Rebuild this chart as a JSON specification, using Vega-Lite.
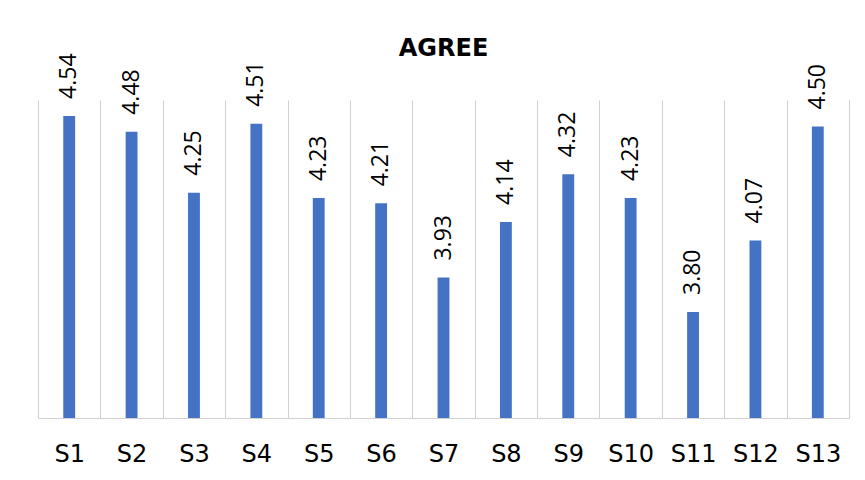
{
  "$schema": "https://vega.github.io/schema/vega-lite/v6.json",
  "autosize": {"type": "none"},
  "width": 811,
  "height": 318,
  "padding": {"left": 38, "top": 100, "right": 16, "bottom": 62},
  "background": "white",
  "title": {
    "text": "AGREE",
    "frame": "group",
    "font": "DejaVu Sans",
    "fontSize": 24,
    "fontWeight": "bold",
    "color": "#000000",
    "anchor": "middle",
    "baseline": "alphabetic",
    "offset": -27
  },
  "data": {
    "values": [
      {"item": "S1", "score": 4.54},
      {"item": "S2", "score": 4.48},
      {"item": "S3", "score": 4.25},
      {"item": "S4", "score": 4.51},
      {"item": "S5", "score": 4.23},
      {"item": "S6", "score": 4.21},
      {"item": "S7", "score": 3.93},
      {"item": "S8", "score": 4.14},
      {"item": "S9", "score": 4.32},
      {"item": "S10", "score": 4.23},
      {"item": "S11", "score": 3.80},
      {"item": "S12", "score": 4.07},
      {"item": "S13", "score": 4.50}
    ]
  },
  "encoding": {
    "x": {
      "field": "item",
      "type": "nominal",
      "sort": null,
      "scale": {"paddingInner": 0, "paddingOuter": 0},
      "axis": {
        "title": null,
        "labelAngle": 0,
        "labelFont": "DejaVu Sans",
        "labelFontSize": 24,
        "labelColor": "#000000",
        "labelBaseline": "alphabetic",
        "labelPadding": 43,
        "ticks": false,
        "grid": true,
        "gridColor": "#d0d0d0",
        "tickBand": "extent",
        "domainColor": "#d0d0d0"
      }
    },
    "y": {
      "field": "score",
      "type": "quantitative",
      "scale": {"domain": [3.4, 4.6], "zero": false, "nice": false},
      "axis": {
        "orient": "right",
        "title": null,
        "labels": false,
        "ticks": false,
        "grid": false,
        "domainColor": "#d0d0d0"
      }
    }
  },
  "layer": [
    {
      "mark": {"type": "bar", "color": "#4472C4", "width": {"band": 0.19}},
      "encoding": {"y2": {"datum": 3.4}}
    },
    {
      "mark": {
        "type": "text",
        "angle": 270,
        "align": "left",
        "baseline": "middle",
        "yOffset": -17,
        "font": "Open Sans",
        "fontSize": 23,
        "color": "#000000"
      },
      "encoding": {"text": {"field": "score", "type": "quantitative", "format": ".2f"}}
    }
  ],
  "config": {
    "view": {"stroke": null}
  }
}
